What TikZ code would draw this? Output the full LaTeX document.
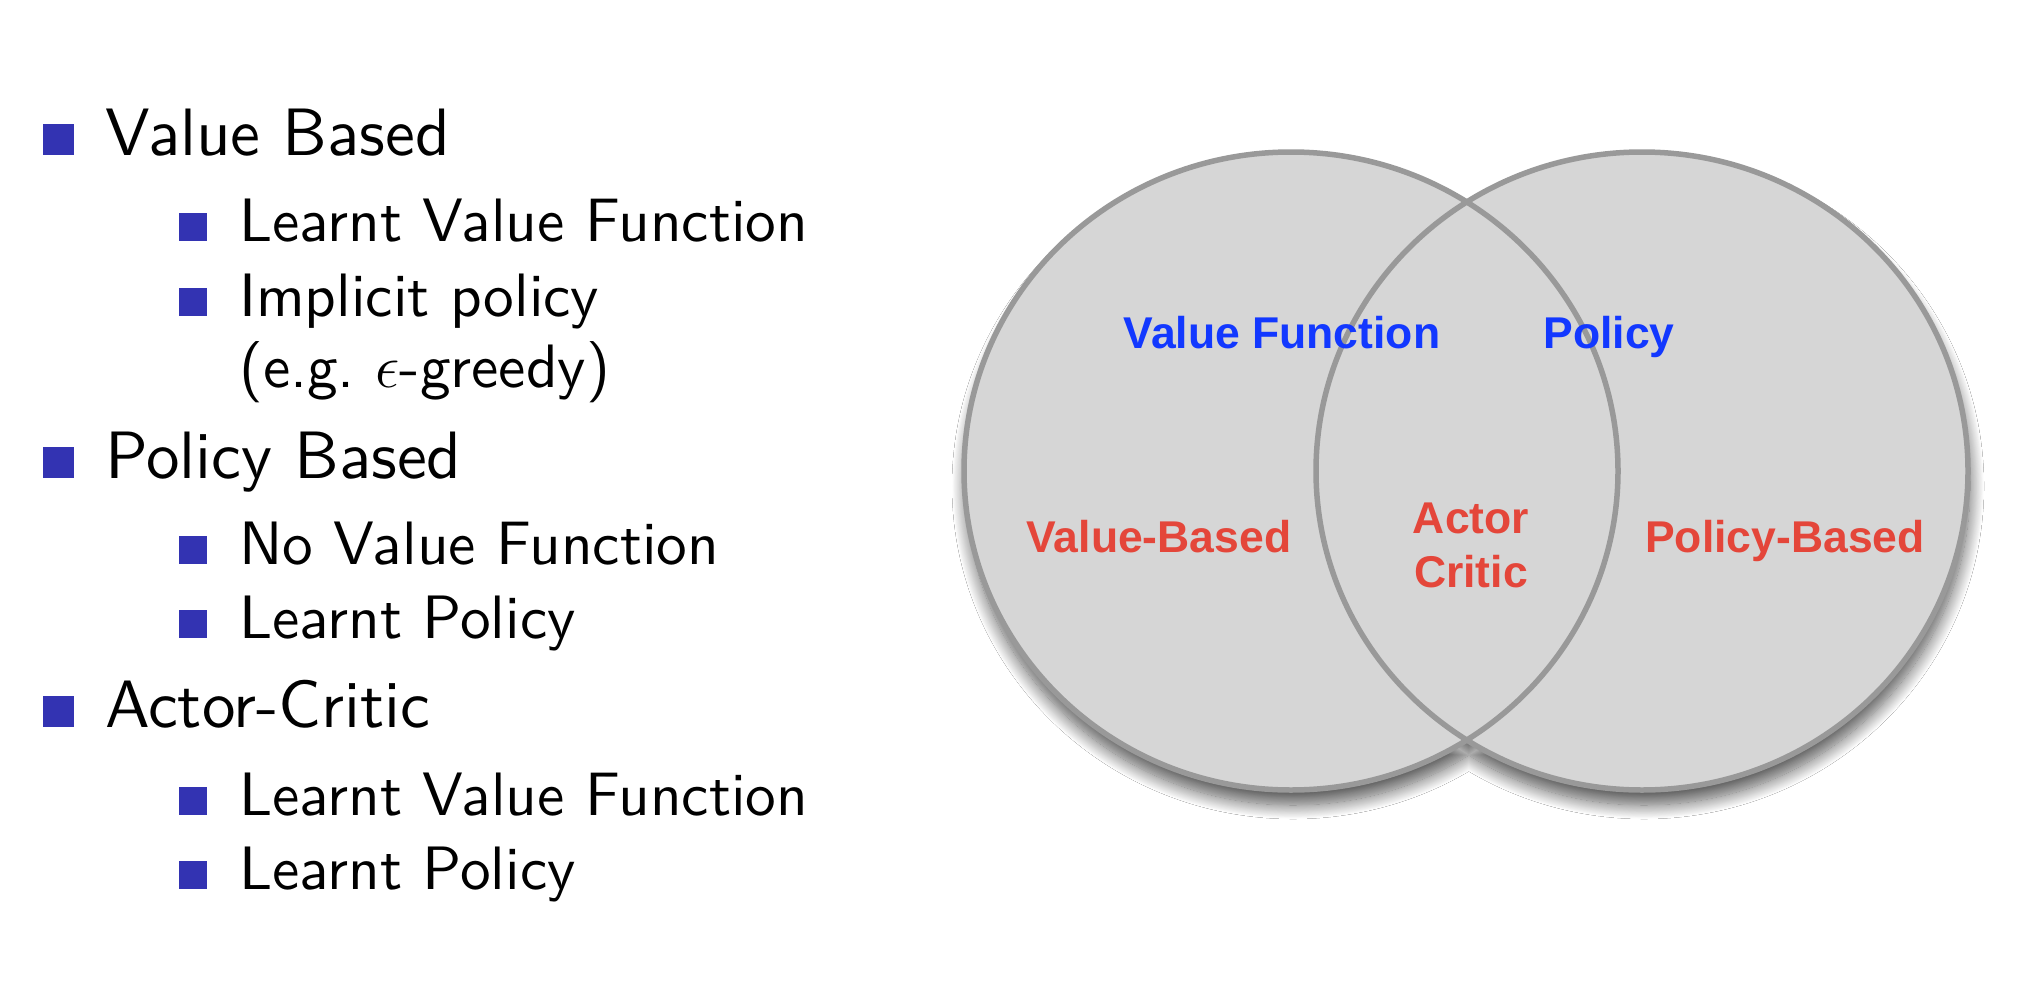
\documentclass[tikz,border=0pt]{standalone}
\usepackage{fix-cm}
\usepackage{fontspec}
\usepackage{amsmath,amssymb}
\usepackage{xcolor}
\usepackage{tikz}
\usetikzlibrary{positioning,shadows.blur}
\newfontfamily\listfont{lmsans10-regular}[Extension=.otf]
\newfontfamily\vennfont{Liberation Sans}
\definecolor{structure}{HTML}{3333B2}
\definecolor{vennfill}{HTML}{D6D6D6}
\definecolor{vennline}{HTML}{999999}
\definecolor{vennblue}{HTML}{1238FF}
\definecolor{vennred}{HTML}{E4463A}
\tikzset{
  topitem/.style={
    anchor=base west,inner sep=0pt,
    font=\listfont\fontsize{67}{80}\selectfont
  },
  subitem/.style={
    anchor=base west,inner sep=0pt,align=left,
    font=\listfont\fontsize{61.3}{71}\selectfont
  },
  topbullet/.style={
    anchor=south west,fill=structure,inner sep=0pt,
    minimum size=31pt
  },
  subbullet/.style={
    anchor=south west,fill=structure,inner sep=0pt,
    minimum size=28pt
  },
  circle/.style={draw=vennline,line width=5.5pt},
  keylabel/.style={
    anchor=base,inner sep=0pt,text=vennblue,
    font=\vennfont\bfseries\fontsize{44.5}{54}\selectfont
  },
  kindlabel/.style={
    anchor=base,inner sep=0pt,text=vennred,align=center,
    font=\vennfont\bfseries\fontsize{44.5}{54}\selectfont
  }
}

\begin{document}
\begin{tikzpicture}[x=1pt,y=-1pt]
\useasboundingbox[fill=white] (0,0) rectangle (2024,988);

% list of the three families
\node[topitem] (vbased) at (105,155) {Value Based};
\node[subitem] (vblvf) at (239,241) {Learnt Value Function};
\node[subitem] (vbimp) at (239,387) {Implicit policy\\(e.g.\ $\epsilon$-greedy)};
\node[topitem] (pbased) at (105,478) {Policy Based};
\node[subitem] (pbnvf) at (239,564) {No Value Function};
\node[subitem] (pblp) at (239,638) {Learnt Policy};
\node[topitem] (acrit) at (105,727) {Actor-Critic};
\node[subitem] (aclvf) at (239,815) {Learnt Value Function};
\node[subitem] (aclp) at (239,889) {Learnt Policy};

\node[topbullet] at (43,155) {};
\node[subbullet] at (179,241) {};
\node[subbullet] at (179,316) {};
\node[topbullet] at (43,478) {};
\node[subbullet] at (179,564) {};
\node[subbullet] at (179,638) {};
\node[topbullet] at (43,727) {};
\node[subbullet] at (179,815) {};
\node[subbullet] at (179,889) {};

% venn diagram
\path[fill=vennfill,
  blur shadow={shadow xshift=2pt,shadow yshift=-15pt,
    shadow blur radius=14pt,shadow blur steps=20,shadow opacity=65}]
  (1291,471) ellipse [x radius=327,y radius=319]
  (1642,471) ellipse [x radius=326,y radius=319];
\draw[circle] (1291,471) ellipse [x radius=327,y radius=319];
\draw[circle] (1642,471) ellipse [x radius=326,y radius=319];

\node[keylabel] (valfn) at (1282,348) {Value Function};
\node[keylabel] (policy) at (1609,348) {Policy};
\node[kindlabel] (valbased) at (1159,552) {Value-Based};
\node[kindlabel] (actcrit) at (1471,587) {Actor\\Critic};
\node[kindlabel] (polbased) at (1785,552) {Policy-Based};
\end{tikzpicture}
\end{document}
